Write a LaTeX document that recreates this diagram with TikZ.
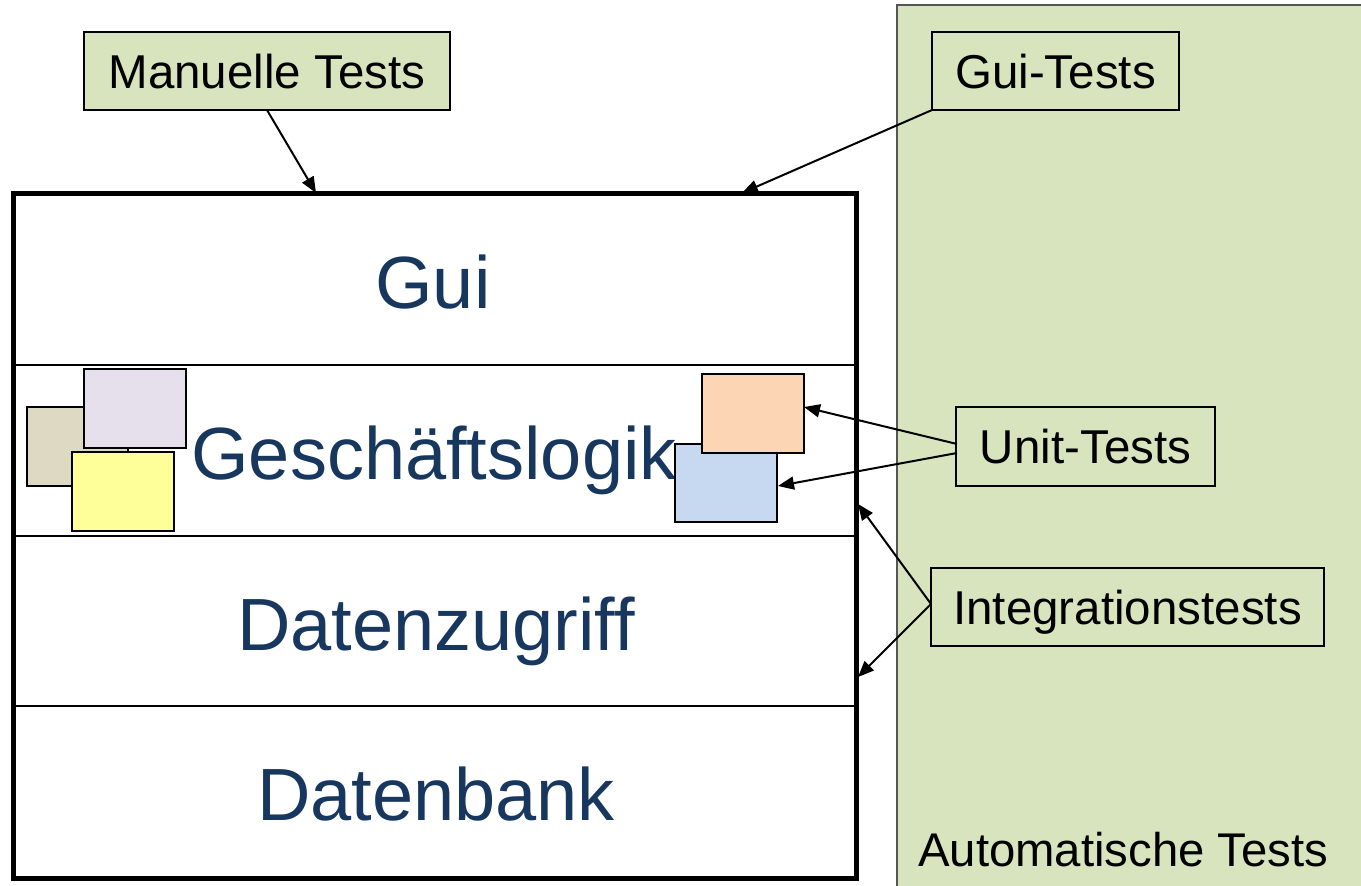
\documentclass[tikz,border=0pt]{standalone}
\usepackage{fontspec}
\setmainfont{Liberation Sans}
\usetikzlibrary{arrows.meta}
\definecolor{testgreen}{RGB}{215,228,189}
\definecolor{layerblue}{RGB}{23,55,94}
\definecolor{framegray}{RGB}{85,85,85}
\definecolor{cbeige}{RGB}{221,217,195}
\definecolor{clavender}{RGB}{230,224,236}
\definecolor{cyellow}{RGB}{255,255,153}
\definecolor{cpeach}{RGB}{252,213,181}
\definecolor{cblue}{RGB}{198,217,241}
\begin{document}
\begin{tikzpicture}[x=1pt,y=-1pt,
  box/.style={anchor=north west, inner sep=0pt, outer sep=0pt},
  layerrow/.style={box, draw, line width=2.5pt, minimum width=843pt},
  layertext/.style={anchor=base, inner sep=0pt, text=layerblue,
    font=\fontsize{74}{80}\selectfont},
  testlabel/.style={box, draw, fill=testgreen, line width=1.5pt,
    text height=34pt, text depth=0pt, font=\fontsize{47.5}{52}\selectfont},
  module/.style={box, draw, line width=2pt},
  pointer/.style={line width=2pt, -{Triangle[length=16pt,width=13pt]}}
]
\useasboundingbox (0,0) rectangle (1361,886);

% area of the automated tests
\node[box, draw=framegray, fill=testgreen, line width=2pt,
  minimum width=480pt, minimum height=900pt] (auto) at (897,5) {};
\node[anchor=base west, inner sep=0pt, font=\fontsize{47.3}{52}\selectfont]
  (autotext) at (918,866) {Automatische Tests};

% layered architecture
\node[layerrow, minimum height=172pt] (rgui)   at (13,193) {};
\node[layerrow, minimum height=171pt] (rlogic) at (13,365) {};
\node[layerrow, minimum height=170pt] (rdata)  at (13,536) {};
\node[layerrow, minimum height=172pt] (rdb)    at (13,706) {};
\node[box, draw, line width=5pt, minimum width=843pt, minimum height=685pt]
  (stack) at (13,193) {};

\node[layertext] (tgui)   at (433,308) {Gui};
\node[layertext] (tlogic) at (434,479) {Geschäftslogik};
\node[layertext] (tdata)  at (436,650) {Datenzugriff};
\node[layertext] (tdb)    at (436,820) {Datenbank};

% modules inside the business logic
\node[module, fill=cbeige,    minimum width=101pt, minimum height=79pt] (m1) at (27,407) {};
\node[module, fill=clavender, minimum width=102pt, minimum height=79pt] (m2) at (84,369) {};
\node[module, fill=cyellow,   minimum width=102pt, minimum height=79pt] (m3) at (72,452) {};
\node[module, fill=cblue,     minimum width=102pt, minimum height=78pt] (m5) at (675,444) {};
\node[module, fill=cpeach,    minimum width=102pt, minimum height=79pt] (m4) at (702,374) {};

% test labels
\node[testlabel, minimum width=366pt, minimum height=78pt] (manual) at (84,32) {Manuelle Tests};
\node[testlabel, minimum width=247pt, minimum height=78pt] (guit)   at (932,32) {Gui-Tests};
\node[testlabel, minimum width=259pt, minimum height=79pt] (unit)   at (956,407) {Unit-Tests};
\node[testlabel, minimum width=393pt, minimum height=78pt] (intg)   at (931,568) {Integrationstests};

% arrow targets
\coordinate (topA) at (316,193);
\coordinate (topB) at (742,193);
\coordinate (unitA) at (957,444);
\coordinate (unitB) at (957,453);
\coordinate (m4in) at (804,407);
\coordinate (m5in) at (778,486);
\coordinate (intA) at (931,604);
\coordinate (edgeA) at (858,504);
\coordinate (edgeB) at (858,677);

\draw[pointer] (manual.south) -- (topA);
\draw[pointer] (guit.south west) -- (topB);
\draw[pointer] (unitA) -- (m4in);
\draw[pointer] (unitB) -- (m5in);
\draw[pointer] (intA) -- (edgeA);
\draw[pointer] (intA) -- (edgeB);
\end{tikzpicture}
\end{document}
